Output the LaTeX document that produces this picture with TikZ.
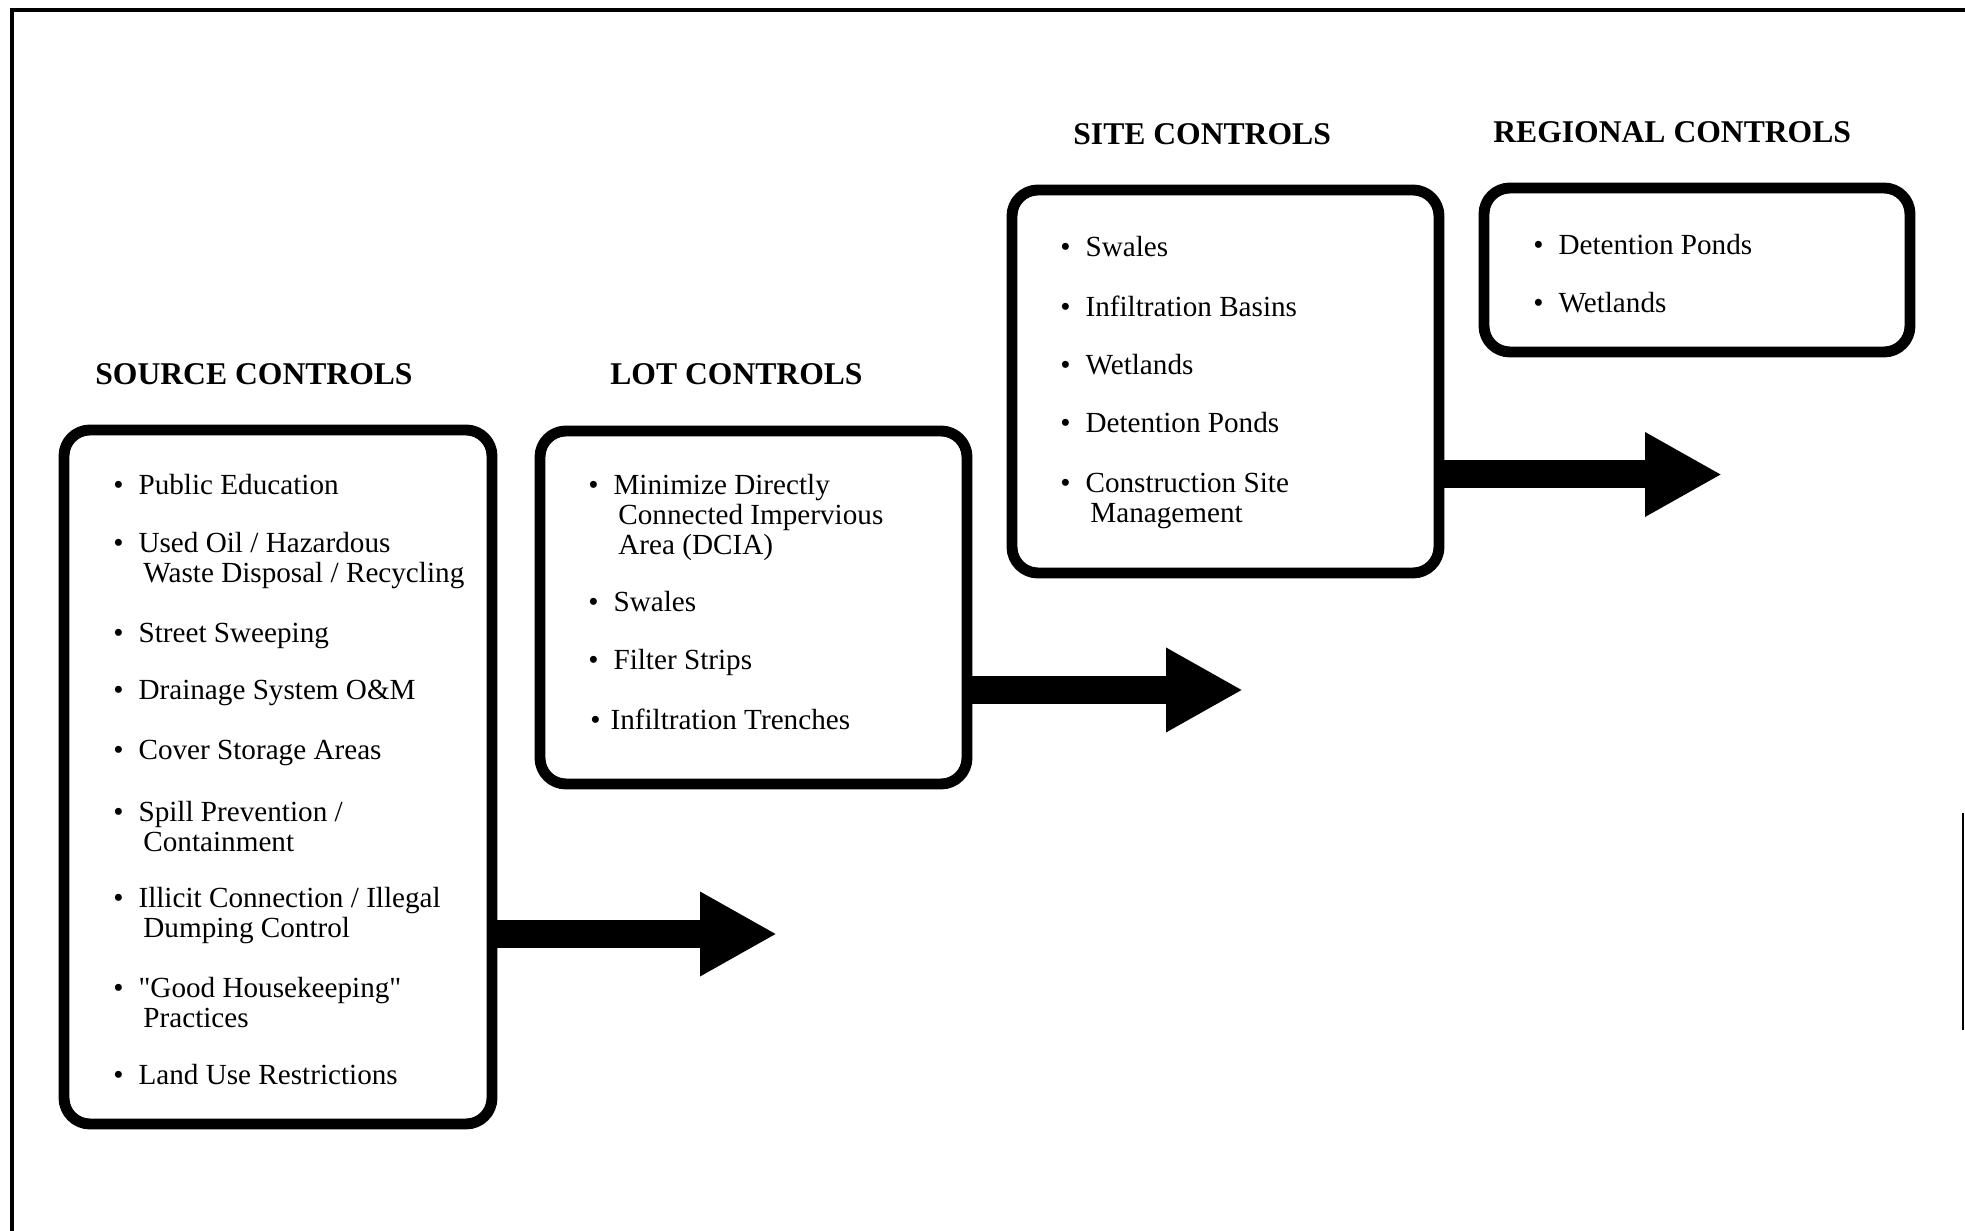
\documentclass[tikz,border=0pt]{standalone}
\usepackage{fontspec}
\setmainfont{Liberation Serif}
\usetikzlibrary{arrows.meta}

% bullet item, continuation lines go after "\\ &"
\newcommand{\bul}[1]{\begin{tabular}[t]{@{}l@{\hspace{0.3cm}}l@{}}\textbullet & #1\end{tabular}}

\begin{document}
\begin{tikzpicture}
		\tikzstyle{every node}=[font=\fontsize{16.6pt}{16.8pt}\selectfont]
		\tikzstyle{box}=[draw, line width=6.2pt, rounded corners=0.52cm, inner sep=0pt]
		\tikzstyle{heading}=[font=\fontsize{18pt}{22pt}\selectfont\bfseries, anchor=base west, inner sep=0pt]
		\tikzstyle{entry}=[anchor=base west, inner sep=0pt]
		\tikzstyle{flow}=[line width=0.56cm, -{Triangle[length=1.54cm, width=1.58cm]}]
		
		\useasboundingbox (0,0) rectangle (39.3,24.62);
		
		% frame
		\draw[line width=2pt] (0.24,0) -- (0.24,24.42) -- (39.3,24.42);
		\draw[line width=1pt] (39.26,8.36) -- (39.26,4.02);
		
		\node[box, minimum width=8.56cm, minimum height=13.88cm] (src) at (5.56,9.08) {};
		\node[box, minimum width=8.54cm, minimum height=7.06cm] (lot) at (15.07,12.47) {};
		\node[box, minimum width=8.54cm, minimum height=7.66cm] (site) at (24.51,16.99) {};
		\node[box, minimum width=8.52cm, minimum height=3.28cm] (reg) at (33.94,19.22) {};
		
		\node[heading] (srcTitle) at (1.9,16.92) {SOURCE CONTROLS};
		\node[heading] (lotTitle) at (12.2,16.92) {LOT CONTROLS};
		\node[heading] (siteTitle) at (21.46,21.72) {SITE CONTROLS};
		\node[heading] (regTitle) at (29.86,21.76) {REGIONAL CONTROLS};
		
		\node[entry] (src1) at (2.26,14.72) {\bul{Public Education}};
		\node[entry] (src2) at (2.26,13.56) {\bul{Used Oil / Hazardous\\ & \,Waste Disposal / Recycling}};
		\node[entry] (src3) at (2.26,11.76) {\bul{Street Sweeping}};
		\node[entry] (src4) at (2.26,10.62) {\bul{Drainage System O\&M}};
		\node[entry] (src5) at (2.26,9.42) {\bul{Cover Storage Areas}};
		\node[entry] (src6) at (2.26,8.18) {\bul{Spill Prevention /\\ & \,Containment}};
		\node[entry] (src7) at (2.26,6.46) {\bul{Illicit Connection / Illegal\\ & \,Dumping Control}};
		\node[entry] (src8) at (2.26,4.66) {\bul{\textquotedbl Good Housekeeping\textquotedbl\\ & \,Practices}};
		\node[entry] (src9) at (2.26,2.92) {\bul{Land Use Restrictions}};
		
		\node[entry] (lot1) at (11.76,14.72) {\bul{Minimize Directly\\ & \,Connected Impervious\\ & \,Area (DCIA)}};
		\node[entry] (lot2) at (11.76,12.38) {\bul{Swales}};
		\node[entry] (lot3) at (11.76,11.22) {\bul{Filter Strips}};
		\node[entry] (lot4) at (11.8,10.02) {\textbullet\hspace{0.2cm}Infiltration Trenches};
		
		\node[entry] (site1) at (21.2,19.48) {\bul{Swales}};
		\node[entry] (site2) at (21.2,18.28) {\bul{Infiltration Basins}};
		\node[entry] (site3) at (21.2,17.12) {\bul{Wetlands}};
		\node[entry] (site4) at (21.2,15.96) {\bul{Detention Ponds}};
		\node[entry] (site5) at (21.2,14.76) {\bul{Construction Site\\ & \,Management}};
		
		\node[entry] (reg1) at (30.66,19.52) {\bul{Detention Ponds}};
		\node[entry] (reg2) at (30.66,18.36) {\bul{Wetlands}};
		
		\coordinate (srcTip) at (15.54,5.94);
		\coordinate (lotTip) at (24.86,10.82);
		\coordinate (siteTip) at (34.44,15.13);
		
		\draw[flow] (src.east |- srcTip) -- (srcTip);
		\draw[flow] (lot.east |- lotTip) -- (lotTip);
		\draw[flow] (site.east |- siteTip) -- (siteTip);
		
	\end{tikzpicture}
\end{document}
